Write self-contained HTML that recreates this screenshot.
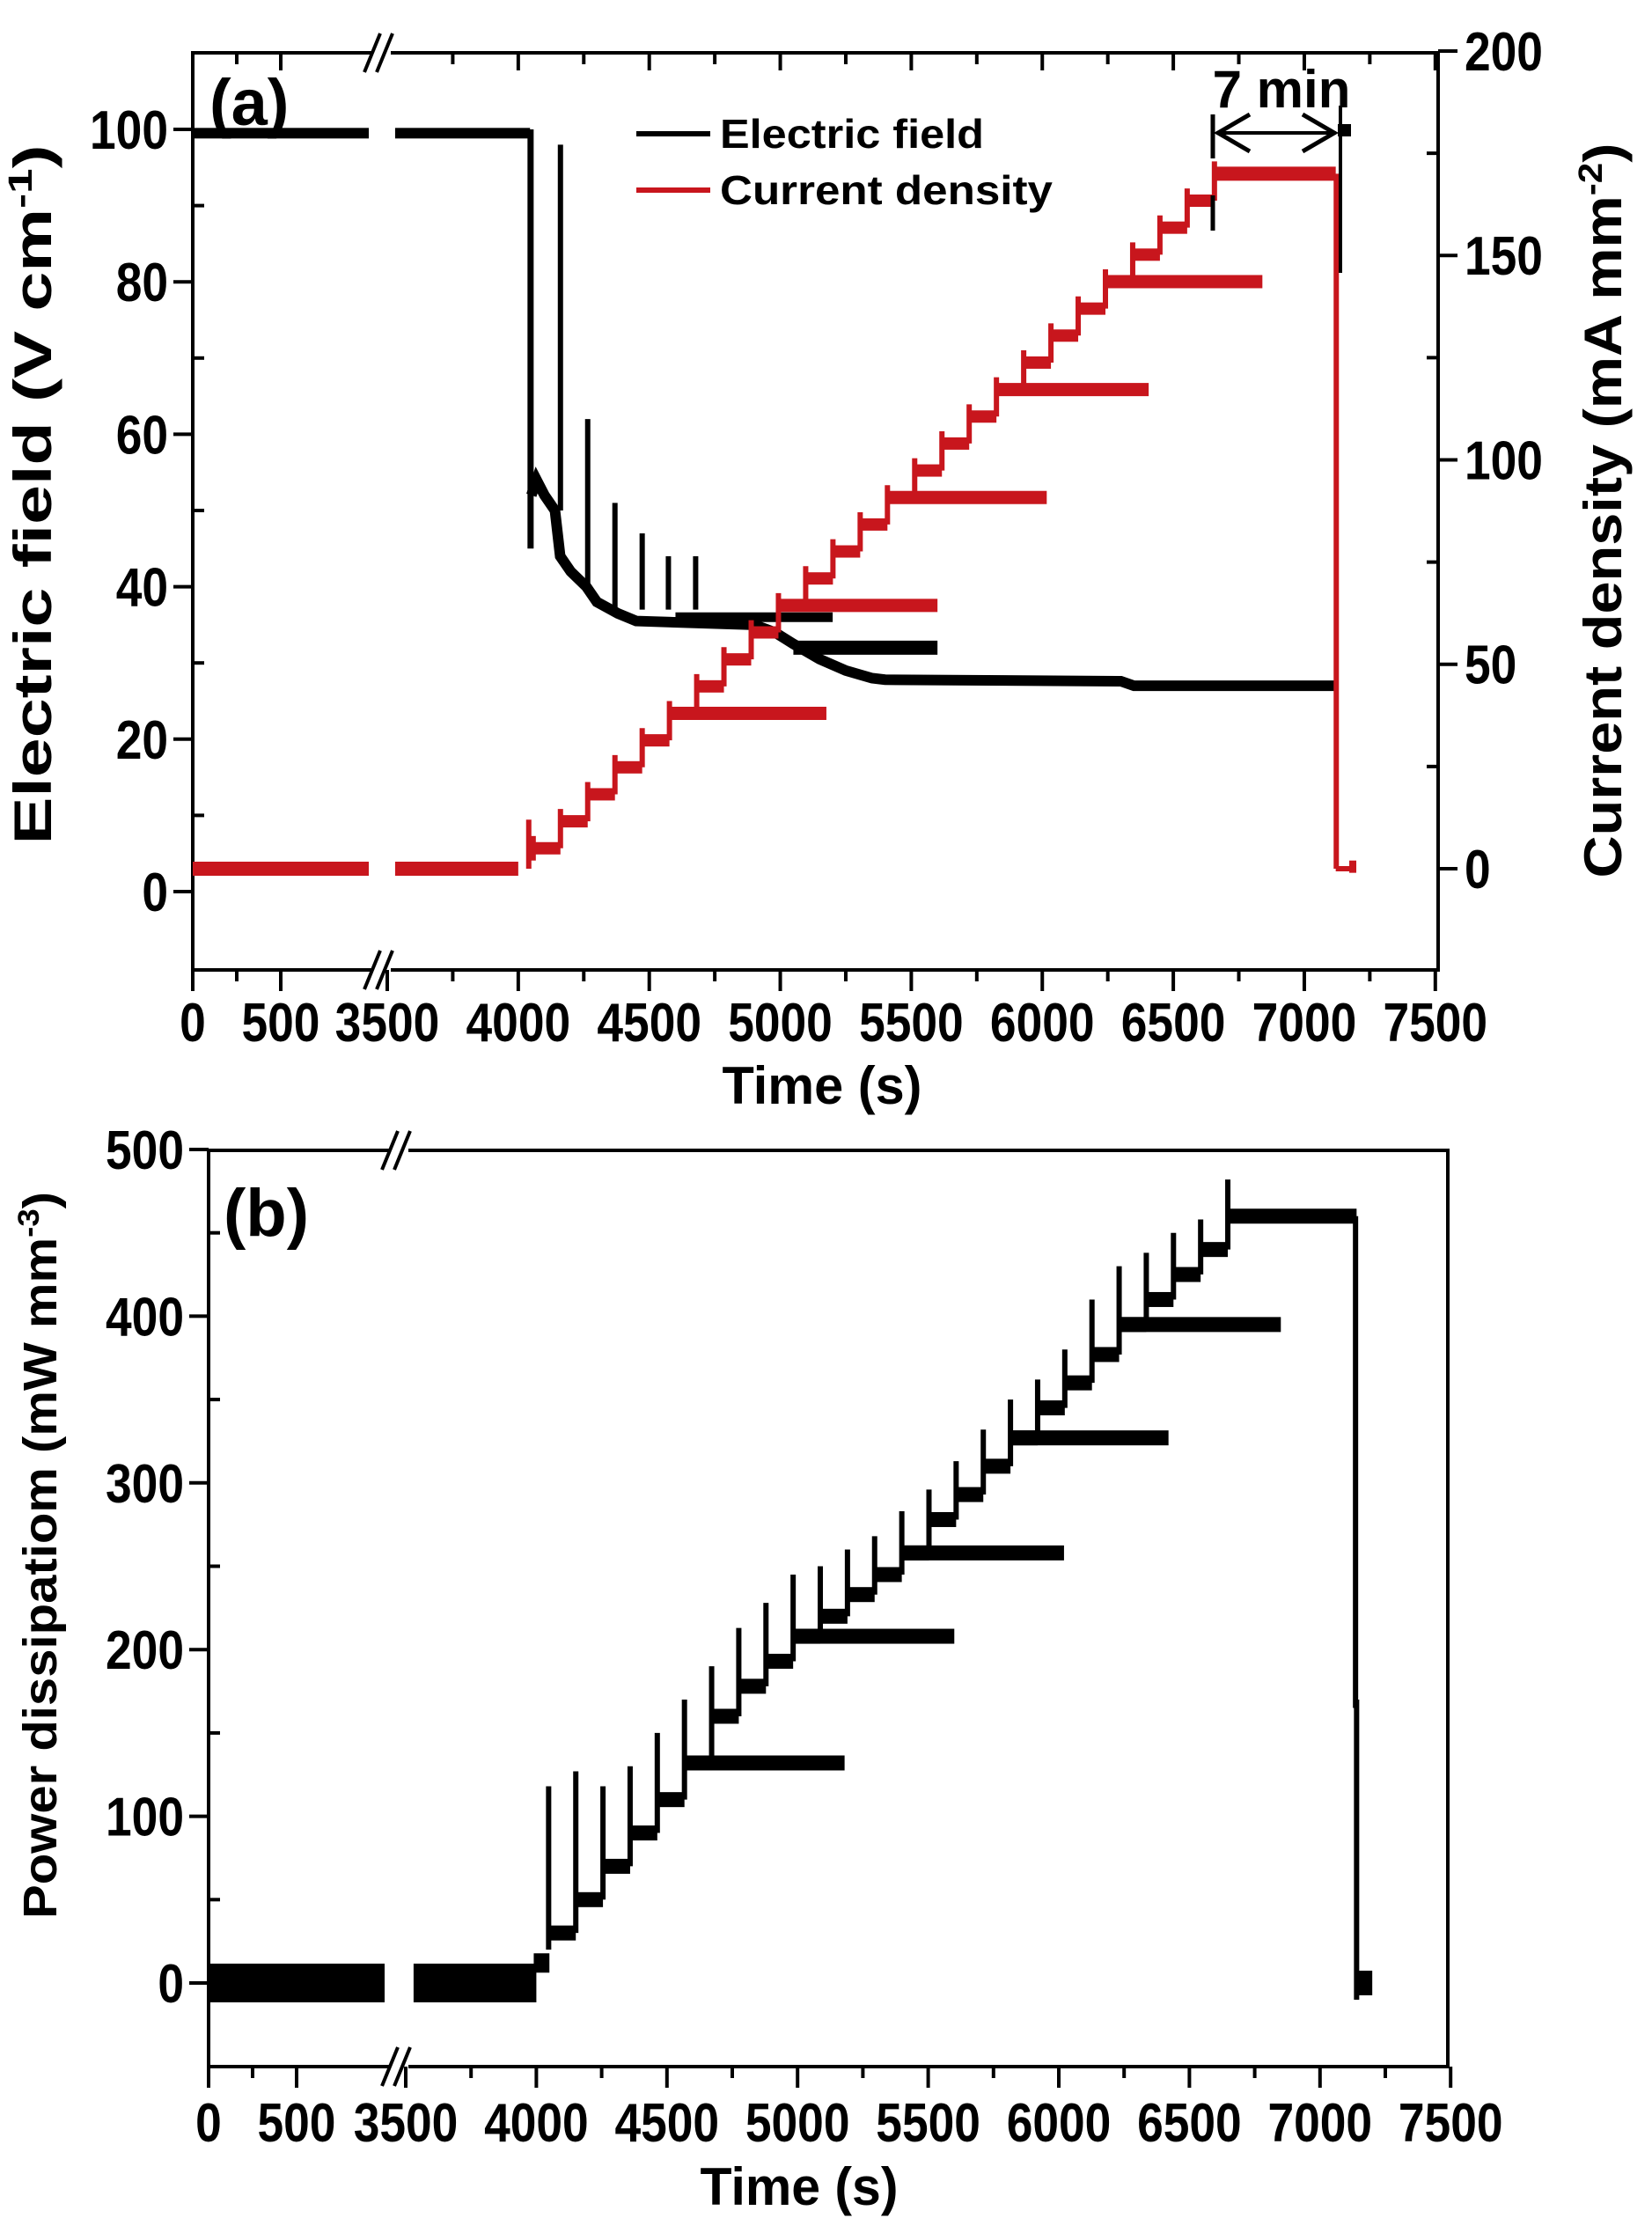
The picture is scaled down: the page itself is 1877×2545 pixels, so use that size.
<!DOCTYPE html>
<html><head><meta charset="utf-8"><style>
html,body{margin:0;padding:0;background:#fff}
svg text{font-family:"Liberation Sans",Arial,sans-serif;font-weight:bold;fill:#000}
</style></head><body>
<svg id="s" width="1877" height="2540" viewBox="0 0 1877 2540" xmlns="http://www.w3.org/2000/svg">
<g id="g"></g>
<text x="238" y="142" font-size="74">(a)</text>
<text x="254" y="1404" font-size="76">(b)</text>
<line x1="723" y1="152" x2="807" y2="152" stroke="#000" stroke-width="6"/>
<line x1="723" y1="216" x2="807" y2="216" stroke="#c8161d" stroke-width="6"/>
<text x="818" y="168" font-size="46" textLength="300" lengthAdjust="spacingAndGlyphs">Electric field</text>
<text x="818" y="232" font-size="46" textLength="378" lengthAdjust="spacingAndGlyphs">Current density</text>
<text x="1456" y="122" font-size="60" text-anchor="middle">7 min</text>
<text x="934" y="1254" font-size="60" text-anchor="middle" textLength="227" lengthAdjust="spacingAndGlyphs">Time (s)</text>
<text x="908" y="2505" font-size="60" text-anchor="middle" textLength="225" lengthAdjust="spacingAndGlyphs">Time (s)</text>
<text transform="translate(58 562) rotate(-90)" font-size="60" text-anchor="middle" textLength="795" lengthAdjust="spacingAndGlyphs">Electric field (V cm<tspan font-size="38" dy="-22">-1</tspan><tspan dy="22">)</tspan></text>
<text transform="translate(1842 580) rotate(-90)" font-size="60" text-anchor="middle" textLength="835" lengthAdjust="spacingAndGlyphs">Current density (mA mm<tspan font-size="38" dy="-22">-2</tspan><tspan dy="22">)</tspan></text>
<text transform="translate(64 1767) rotate(-90)" font-size="54" text-anchor="middle" textLength="826" lengthAdjust="spacingAndGlyphs">Power dissipatiom (mW mm<tspan font-size="34" dy="-20">-3</tspan><tspan dy="20">)</tspan></text>
</svg>
<script>
var g=document.getElementById('g'),NS='http://www.w3.org/2000/svg';
function el(n,a,t){var e=document.createElementNS(NS,n);for(var k in a)e.setAttribute(k,a[k]);if(t!==undefined)e.textContent=t;g.appendChild(e);return e;}
function line(x1,y1,x2,y2,c,w){el('line',{x1:x1,y1:y1,x2:x2,y2:y2,stroke:c||'#000','stroke-width':w||4});}
function rect(x1,x2,yc,h,c){el('rect',{x:Math.min(x1,x2),y:yc-h/2,width:Math.abs(x2-x1),height:h,fill:c});}
function txt(x,y,s,sz,anc){return el('text',{x:x,y:y,'font-size':sz,'text-anchor':anc||'middle',transform:'translate('+x+' '+y+') scale(0.86 1) translate('+(-x)+' '+(-y)+')'},s);}
function axes(P){
 var L=P.L,R=P.R,T=P.T,B=P.B,bk=P.bk;
 line(L,T,L,B,'#000',4);line(R,T,R,B,'#000',4);
 line(L-2,T,bk-8,T,'#000',4);line(bk+12,T,R+2,T,'#000',4);
 line(L-2,B,bk-8,B,'#000',4);line(bk+12,B,R+2,B,'#000',4);
 [T,B].forEach(function(y){line(bk-18,y+22,bk,y-22,'#000',4);line(bk-4,y+22,bk+14,y-22,'#000',4);});
 var lab=[[0,'0'],[500,'500'],[3500,'3500']];
 for(var v=4000;v<=7500;v+=500)lab.push([v,''+v]);
 lab.forEach(function(a){var x=P.X(a[0]);line(x,B,x,B+24,'#000',4);if(P.top&&a[0]!=3500&&a[0]!=0)line(x,T,x,T+20,'#000',4);
   txt(x,P.tly,a[1],62);});
 [250,3750,4250,4750,5250,5750,6250,6750,7250].forEach(function(v){var x=P.X(v);line(x,B,x,B+13,'#000',4);if(P.top)line(x,T,x,T+13,'#000',4);});
 P.yt.forEach(function(v){var y=P.Y(v);line(L-22,y,L,y,'#000',4);txt(L-28,y+22,''+v,62,'end');});
 P.ym.forEach(function(v){var y=P.Y(v);line(L,y,L+13,y,'#000',4);});
}
// ---------- Panel a
var A={L:219,R:1634,T:60,B:1102,bk:432,tly:1183,top:true,
 X:function(t){return t<=2000?219+t*0.2:440+(t-3500)*0.2977;},
 Y:function(e){return 1013-e*8.66;},yt:[0,20,40,60,80,100],ym:[10,30,50,70,90]};
axes(A);
var YR=function(c){return 987-c*4.645;};
[0,50,100,150,200].forEach(function(v){var y=YR(v);line(A.R,y,A.R+22,y,'#000',4);txt(A.R+30,y+22,''+v,62,'start');});
[25,75,125,175].forEach(function(v){var y=YR(v);line(A.R-13,y,A.R,y,'#000',4);});
var X=A.X,Y=A.Y,RED='#c8161d';
rect(X(0),X(1000),Y(99.5),12,'#000');rect(X(3530),X(4045),Y(99.5),12,'#000');
line(X(4047),Y(100),X(4047),Y(45),'#000',7);
var pts=[[4050,52],[4070,54],[4100,52],[4140,50],[4160,44],[4200,42],[4260,40],[4300,38],[4380,36.5],[4450,35.5],[4900,35],[4980,34],[5050,32.5],[5150,30.5],[5250,29],[5350,28],[5400,27.8],[6300,27.6],[6350,27],[7125,27]];
var d='M'+pts.map(function(p){return X(p[0])+','+Y(p[1]);}).join(' L');
el('path',{d:d,fill:'none',stroke:'#000','stroke-width':12});
[[4161,98],[4265,62],[4369,51],[4473,47],[4573,44],[4677,44]].forEach(function(s){
 var base=s[0]<4200?50:(s[0]<4300?40:37);line(X(s[0]),Y(s[1]),X(s[0]),Y(base),'#000',6);});
rect(X(4600),X(5200),Y(36),11,'#000');rect(X(5050),X(5600),Y(32),16,'#000');
rect(X(0),X(1000),YR(0),16,RED);rect(X(3530),X(4000),YR(0),16,RED);
line(X(4040),YR(0),X(4040),YR(12),RED,6);
var prevC=2;
for(var k=0;k<26;k++){
 var t=4057+104*k,c=170-(25-k)*6.6,te=t+104;
 if(k==25)te=7120;
 line(X(t),YR(prevC),X(t),YR(c+3),RED,6);
 rect(X(t),X(te),YR(c),(k==25?16:14),RED);
 prevC=c;
}
[[5,5176],[9,5600],[13,6017],[17,6406],[21,6840]].forEach(function(b){var c=170-(25-b[0])*6.6;rect(X(4057+104*b[0]),X(b[1]),YR(c),15,RED);});
line(X(7122),YR(170),X(7122),YR(0),RED,6);
rect(X(7120),X(7190),YR(0),6,RED);line(X(7185),YR(2),X(7185),YR(-1),RED,8);
line(1378,130,1378,180,'#000',5);line(1378,222,1378,262,'#000',5);line(1523,120,1523,310,'#000',4);
line(1382,151,1518,151,'#000',4);
el('path',{d:'M1420,130 L1384,151 L1420,172',fill:'none',stroke:'#000','stroke-width':5});
el('path',{d:'M1480,130 L1516,151 L1480,172',fill:'none',stroke:'#000','stroke-width':5});
rect(1520,1535,148,14,'#000');
// ---------- Panel b
var B={L:237,R:1645,T:1307,B:2348,bk:452,tly:2433,top:false,
 X:function(t){return t<=2000?237+t*0.2:461+(t-3500)*0.2968;},
 Y:function(p){return 2253-p*1.894;},yt:[0,100,200,300,400,500],ym:[50,150,250,350,450]};
axes(B);
X=B.X;Y=B.Y;
rect(X(0),X(1000),Y(0),44,'#000');rect(X(3530),X(4000),Y(0),44,'#000');
rect(X(3990),X(4050),Y(12),22,'#000');
var pv=[30,50,70,90,110,132,160,178,193,208,220,233,245,258,278,293,310,327,345,360,377,395,410,425,440,460];
var sp=[118,127,118,130,150,170,190,213,228,245,250,260,268,283,296,313,332,350,362,380,410,430,438,450,458,482];
for(var k=0;k<26;k++){
 var t=4047+104*k,te=t+104;if(k==25)te=7140;
 rect(X(t),X(te),Y(pv[k]),17,'#000');
 line(X(t),Y(sp[k]),X(t),Y(k?pv[k-1]:20),'#000',6);
}
[[5,5180],[9,5600],[13,6020],[17,6420],[21,6850]].forEach(function(b){rect(X(4047+104*b[0]),X(b[1]),Y(pv[b[0]]),17,'#000');});
line(X(7136),Y(460),X(7136),Y(165),'#000',6);line(X(7140),Y(170),X(7140),Y(-10),'#000',6);
rect(X(7140),X(7200),Y(0),28,'#000');
</script>
</body></html>
